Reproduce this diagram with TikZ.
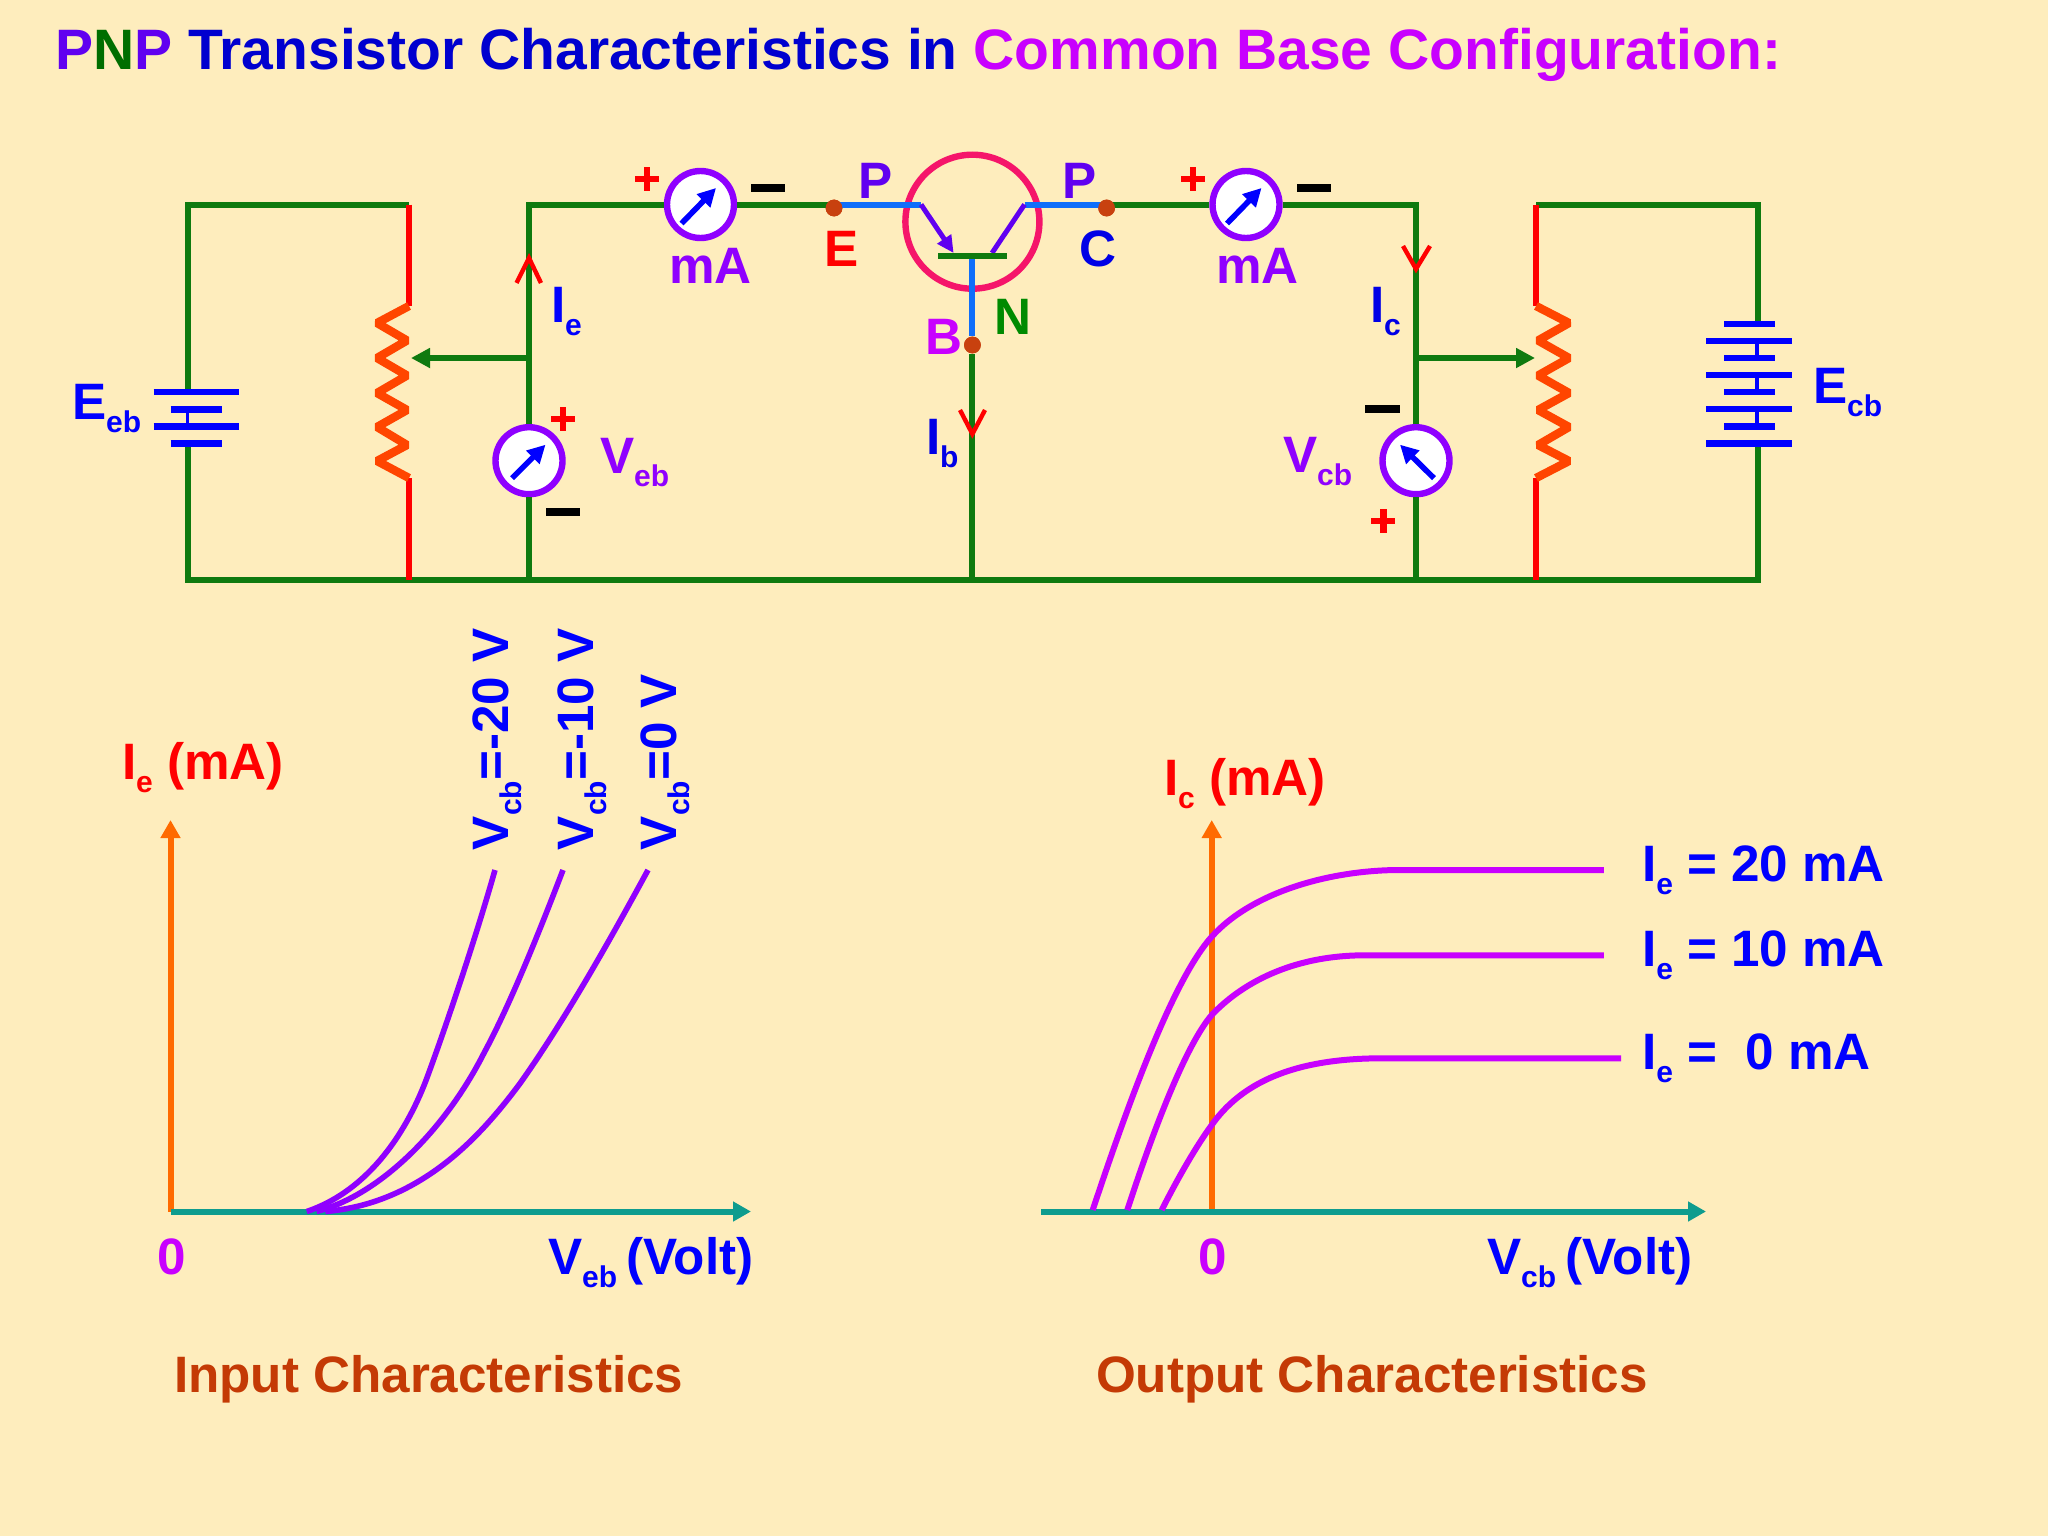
\documentclass[tikz,border=0pt]{standalone}
\usepackage{fontspec}
\setmainfont{Liberation Sans}
\usetikzlibrary{arrows.meta,calc}
\definecolor{bgc}{HTML}{FEEDBD}
\definecolor{wirec}{HTML}{0F7A0F}
\definecolor{bluew}{HTML}{0F6EFA}
\definecolor{zig}{HTML}{FF4500}
\definecolor{violet}{HTML}{8F00FF}
\definecolor{magent}{HTML}{C800FF}
\definecolor{indig}{HTML}{6000F0}
\definecolor{navy}{HTML}{0000E6}
\definecolor{teal2}{HTML}{0E9C8E}
\definecolor{orange2}{HTML}{FF6A00}
\definecolor{rust}{HTML}{C43A05}
\definecolor{crim}{HTML}{F5156A}
\definecolor{dotc}{HTML}{C8410F}
\definecolor{greenN}{HTML}{008A00}
\newcommand{\sbs}[1]{\raisebox{-6.5pt}{\fontsize{15}{15}\selectfont #1}}
\newcommand{\gap}{\hspace{0.18em}}
\tikzset{
 x=0.5pt,y=-0.5pt,
 lab/.style={anchor=base west,inner sep=0,outer sep=0,font=\bfseries\fontsize{25.6}{26}\selectfont,text=#1},
 ttl/.style={anchor=base west,inner sep=0,outer sep=0,font=\bfseries\fontsize{28.5}{29}\selectfont},
 wire/.style={draw=wirec,line width=3pt},
 redw/.style={draw=red,line width=3.2pt},
 bluel/.style={draw=bluew,line width=3pt},
 plate/.style={draw=blue,line width=3.3pt},
 link/.style={draw=blue,line width=1.6pt},
 zz/.style={draw=zig,line width=4.2pt,line join=bevel},
 chev/.style={draw=red,line width=2.2pt},
 meter/.style={circle,draw=violet,line width=3.2pt,fill=white,minimum size=33.5pt,inner sep=0},
 needle/.style={draw=blue,line width=2.8pt,-{Triangle[length=9pt,width=9pt]}},
 plusm/.style={draw=red,line width=3.4pt},
 minusm/.style={draw=black,line width=4.4pt},
 yax/.style={draw=orange2,line width=3pt,-{Triangle[length=9pt,width=9.5pt]}},
 xax/.style={draw=teal2,line width=3pt,-{Triangle[length=9pt,width=9.5pt]}},
 tap/.style={draw=wirec,line width=2.8pt,-{Triangle[length=9.5pt,width=9.5pt]}},
 dot/.style={circle,fill=dotc,minimum size=8.4pt,inner sep=0},
 incurve/.style={draw=violet,line width=2.8pt},
 outcurve/.style={draw=magent,line width=3pt},
}
\begin{document}
\begin{tikzpicture}
\useasboundingbox (0,0) rectangle (2048,1536);
\fill[bgc] (0,0) rectangle (2048,1536);
% named junctions
\coordinate (ltl) at (187.5,204.5);
\coordinate (lbl) at (187.5,580);
\coordinate (lbt) at (187.5,392);
\coordinate (lbb) at (187.5,444);
\coordinate (rtl) at (409,204.5);
\coordinate (rbl) at (409,580);
\coordinate (rzt) at (409,306);
\coordinate (rzb) at (409,478);
\coordinate (vlt) at (529,204.5);
\coordinate (vlb) at (529,580);
\coordinate (vlm) at (529,358);
\coordinate (rtap) at (411,358);
\coordinate (bb) at (972.4,580);
\coordinate (bjunc) at (972.4,256);
\coordinate (vrt) at (1416,204.5);
\coordinate (vrb) at (1416,580);
\coordinate (vrm) at (1416,358);
\coordinate (ltap) at (1535,358);
\coordinate (r2tl) at (1536,204.5);
\coordinate (r2bl) at (1536,580);
\coordinate (r2zt) at (1536,306);
\coordinate (r2zb) at (1536,478);
\coordinate (tr) at (1758,204.5);
\coordinate (br) at (1758,580);
\coordinate (bat2t) at (1758,324);
\coordinate (bat2b) at (1758,444);
\coordinate (emit) at (921,204.5);
\coordinate (coll) at (1024.5,204.5);
\coordinate (ehit) at (953.6,253);
\coordinate (chit) at (992,253);
% transistor ring
\node[circle,draw=crim,line width=3.2pt,minimum size=67pt,inner sep=0] (ring) at (972.4,221.7) {};
% dots and meters
\node[dot] (E) at (834,208) {};
\node[dot] (C) at (1106.6,208) {};
\node[dot] (B) at (972.4,345) {};
\node[meter] (ma1) at (700.5,204.5) {};
\node[meter] (ma2) at (1246,204.5) {};
\node[meter] (veb) at (529,460.7) {};
\node[meter] (vcb) at (1416,460.7) {};
% wires
\draw[wire] (lbt) -- (ltl) -- (rtl);
\draw[wire] (lbb) -- (lbl) -- (vrb);
\draw[wire] (vrb) -- (br) -- (bat2b);
\draw[wire] (bat2t) -- (tr) -- (r2tl);
\draw[wire] (vlb) -- (veb);
\draw[wire] (veb) -- (vlt) -- (ma1);
\draw[wire] (ma1) -- (ma1 -| E);
\draw[wire] (B) -- (bb);
\draw[wire] (ma2 -| C) -- (ma2);
\draw[wire] (ma2) -- (vrt) -- (vcb);
\draw[wire] (vcb) -- (vrb);
\draw[tap] (vlm) -- (rtap);
\draw[tap] (vrm) -- (ltap);
% rheostats
\draw[redw] (rtl) -- (rzt);
\draw[redw] (rzb) -- (rbl);
\draw[redw] (r2tl) -- (r2zt);
\draw[redw] (r2zb) -- (r2bl);
\draw[zz] (rzt) -- (377,323) -- (407,340.5) -- (377,358) -- (407,375.5) -- (377,393) -- (407,410) -- (377,427) -- (407,445) -- (377,461) -- (rzb);
\draw[zz] (r2zt) -- (1569,323) -- (1538,340.5) -- (1569,358) -- (1538,375.5) -- (1569,393) -- (1538,410) -- (1569,427) -- (1538,445) -- (1569,461) -- (r2zb);
% transistor leads
\draw[bluel] (E.center |- emit) -- (emit);
\draw[bluel] (coll) -- (C.center |- coll);
\draw[bluel] (bjunc) -- (B);
\draw[draw=indig,line width=2.5pt,-{Triangle[length=8.5pt,width=8pt]}] (emit) -- (ehit);
\draw[draw=indig,line width=2.5pt] (coll) -- (chit);
\draw[draw=wirec,line width=3pt] (938,255.7) -- (1007,255.7);
% dots over the leads
\fill[dotc] (E) circle[radius=8.4];
\fill[dotc] (C) circle[radius=8.4];
\fill[dotc] (B) circle[radius=8.4];
% batteries
\draw[plate] (153.6,392) -- (239,392);
\draw[plate] (170.5,409.7) -- (222,409.7);
\draw[plate] (153.6,426.7) -- (239,426.7);
\draw[plate] (170.5,443.7) -- (222,443.7);
\draw[link] (187.5,409.7) -- (187.5,426.7);
\foreach \yy in {324,358,392,426.7} \draw[plate] (1724,\yy) -- (1774.5,\yy);
\foreach \yy in {341,375,409,443.7} \draw[plate] (1706,\yy) -- (1792,\yy);
\draw[link] (1757,341) -- (1757,358);
\draw[link] (1757,375) -- (1757,392);
\draw[link] (1757,409) -- (1757,426.7);
% needles
\draw[needle] ($(ma1)+(-19,19)$) -- ($(ma1)+(15.5,-16.5)$);
\draw[needle] ($(ma2)+(-19,19)$) -- ($(ma2)+(15.5,-16.5)$);
\draw[needle] ($(veb)+(-17,17.5)$) -- ($(veb)+(16.5,-16)$);
\draw[needle] ($(vcb)+(18,17.5)$) -- ($(vcb)+(-16,-16)$);
% chevrons
\draw[chev] (516.5,283) -- (529,258) -- (541,283);
\draw[chev] (960,410) -- (972.4,434) -- (985,410);
\draw[chev] (1403,246) -- (1416,269) -- (1430,246);
% plus and minus
\foreach \px/\py in {647/179,563/419,1193/179,1383.4/521}{
 \draw[plusm] (\px-12,\py) -- (\px+12,\py);
 \draw[plusm] (\px,\py-12) -- (\px,\py+12);
}
\draw[minusm] (751,188) -- (785,188);
\draw[minusm] (1297,188) -- (1331,188);
\draw[minusm] (546,512) -- (580,512);
\draw[minusm] (1365.4,409) -- (1399.5,409);
% title
\node[ttl] (title) at (55,70) {\textcolor{indig}{P}\textcolor{greenN!80!black}{N}\textcolor{indig}{P}\textcolor{navy!90!black}{\ Transistor Characteristics in\ }\textcolor{magent}{Common Base Configuration:}};
% circuit labels
\node[lab=blue] (leeb) at (72,419) {E\sbs{eb}};
\node[lab=blue] (lie) at (551,322) {I\sbs{e}};
\node[lab=violet] (lveb) at (600,473) {V\sbs{eb}};
\node[lab=violet] (lm1) at (669,283) {mA};
\node[lab=indig] (lp1) at (858,198) {P};
\node[lab=red] (lE) at (824,266) {E};
\node[lab=indig] (lp2) at (1062,198) {P};
\node[lab=navy] (lC) at (1079,266) {C};
\node[lab=greenN] (lN) at (994,334) {N};
\node[lab=magent] (lB) at (925,354) {B};
\node[lab=navy] (lib) at (926,454) {I\sbs{b}};
\node[lab=violet] (lm2) at (1216,283) {mA};
\node[lab=navy] (lic) at (1370,322) {I\sbs{c}};
\node[lab=violet] (lvcb) at (1283,472) {V\sbs{cb}};
\node[lab=blue] (lecb) at (1813,403) {E\sbs{cb}};
% graphs
\coordinate (o1) at (170.5,1211.5);
\coordinate (xe1) at (751,1211.5);
\coordinate (ye1) at (170.5,820);
\coordinate (o2) at (1211.7,1211.5);
\coordinate (xs2) at (1041,1211.5);
\coordinate (xe2) at (1706,1211.5);
\coordinate (ye2) at (1211.7,820);
\draw[yax] (o1) -- (ye1);
\draw[xax] (o1) -- (xe1);
\draw[yax] (o2) -- (ye2);
\draw[xax] (xs2) -- (xe2);
\draw[incurve] (306.7,1211.5) .. controls (370,1190) and (408,1130) .. (428,1075) .. controls (450,1015) and (478,930) .. (495,870);
\draw[incurve] (316.5,1211.5) .. controls (380,1195) and (445,1130) .. (484,1053) .. controls (510,1005) and (540,930) .. (563,870);
\draw[incurve] (325.4,1211.5) .. controls (425,1203) and (485,1130) .. (519.6,1084) .. controls (565,1020) and (610,940) .. (648,870);
\draw[outcurve] (1092.7,1210) .. controls (1130,1098) and (1173.7,979) .. (1211.7,936.7) .. controls (1252,892) and (1330,870) .. (1400,870) -- (1603.8,870);
\draw[outcurve] (1127.3,1210) .. controls (1155,1125) and (1186.7,1044) .. (1211.7,1015) .. controls (1240,985) and (1290,955.3) .. (1365,955.3) -- (1603.8,955.3);
\draw[outcurve] (1161.7,1210) .. controls (1178,1178) and (1195,1148) .. (1211.7,1125) .. controls (1240,1085) and (1290,1058.3) .. (1381.7,1058.3) -- (1621,1058.3);
% graph labels
\node[lab=red] (lieax) at (122,779) {I\sbs{e}\hspace{0.28em}(mA)};
\node[lab=magent] (l01) at (157,1274) {0};
\node[lab=blue] (lvx1) at (548,1274) {V\sbs{eb}\gap(Volt)};
\node[lab=blue,rotate=90] (c1) at (508,850) {V\sbs{cb}=-20 V};
\node[lab=blue,rotate=90] (c2) at (593.5,850) {V\sbs{cb}=-10 V};
\node[lab=blue,rotate=90] (c3) at (676.5,850) {V\sbs{cb}=0 V};
\node[lab=red] (licax) at (1164,795) {I\sbs{c}\hspace{0.28em}(mA)};
\node[lab=magent] (l02) at (1198,1274) {0};
\node[lab=blue] (lvx2) at (1487,1274) {V\sbs{cb}\gap(Volt)};
\node[lab=blue] (i20) at (1642,881) {I\sbs{e} = 20 mA};
\node[lab=blue] (i10) at (1642,966) {I\sbs{e} = 10 mA};
\node[lab=blue] (i0) at (1642,1069) {I\sbs{e} =\ \ 0 mA};
\node[lab=rust] (linp) at (174,1392) {Input Characteristics};
\node[lab=rust] (lout) at (1096,1392) {Output Characteristics};
\end{tikzpicture}
\end{document}
